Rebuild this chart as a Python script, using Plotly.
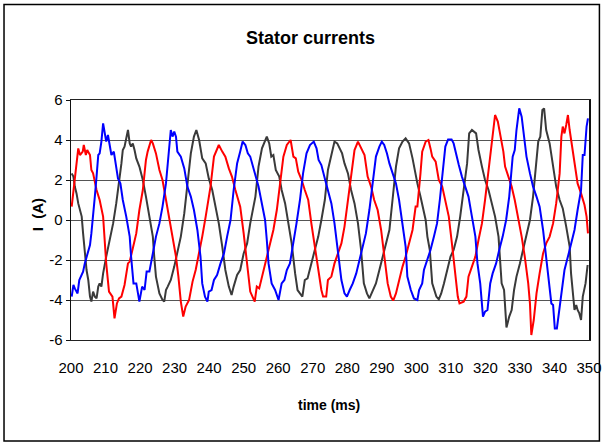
import plotly.graph_objects as go

# ---- data (time in ms, current in A) ----
t_red = [200.2, 201.1, 202.1, 202.6, 203.4, 203.7, 204.3, 204.7, 205.5, 205.9, 206.4, 207.4, 208.3, 209.3,
         210.2, 211.0, 212.0, 212.6, 213.3, 213.9, 214.6, 215.5, 216.5, 217.0, 217.9, 218.9, 219.8, 220.8,
         221.7, 222.2, 223.2, 223.7, 224.6, 225.6, 226.5, 227.5, 228.4, 229.4, 230.4, 231.1, 231.8, 232.5,
         233.2, 234.2, 235.2, 236.1, 237.1, 238.0, 239.0, 240.4, 241.4, 242.8, 243.8, 244.7, 245.7, 246.6,
         247.6, 249.0, 250.0, 251.0, 251.9,
         253.2, 253.8, 254.5, 255.3, 255.8, 256.7, 257.7, 258.6, 259.6, 260.5, 261.5, 262.5, 263.6, 264.4,
         265.1, 265.8, 266.8, 267.7, 268.7, 269.6, 270.6, 271.6, 272.5, 273.0, 273.9, 274.4, 275.4, 276.3,
         277.3, 278.3, 279.2, 280.2, 281.1, 282.1, 283.1, 284.0, 285.0, 285.9, 286.9, 287.8, 288.8, 289.8,
         290.7, 291.7, 292.6, 293.3, 294.1, 295.0, 296.0, 296.9, 297.9, 298.9, 299.8,
         300.3, 301.2, 301.7, 302.7, 303.5, 304.1, 304.6, 305.6, 306.5, 307.5, 308.4, 309.4, 310.3, 311.3,
         312.0, 312.5, 313.7, 314.5, 315.1, 316.1, 317.1, 318.0, 319.0, 319.9, 320.9, 321.8, 322.8, 323.6,
         324.2, 325.2, 325.7, 326.6, 327.6, 328.5, 329.5, 330.5, 331.4, 332.4, 332.9, 333.3, 334.0, 334.8,
         335.7, 336.7, 337.6, 338.6, 339.6, 340.5, 341.5, 342.0, 342.4, 342.9, 343.4, 343.9, 344.4, 344.8,
         345.8, 346.7, 347.7, 348.7, 349.3, 349.7]
i_red = [0.67, 2.17, 3.58, 3.25, 3.42, 3.75, 3.25, 3.5, 3.25, 2.5, 2.33, 1.5, 1.0, 0.17,
         -2.17, -3.58, -3.83, -4.92, -4.17, -3.92, -3.83, -3.25, -2.17, -2.08, -1.33, -0.67, 0.5, 1.5,
         3.0, 3.42, 4.0, 3.83, 3.33, 2.5, 2.0, 1.0, 0.0, -1.0, -1.83, -2.83, -4.08, -4.83,
         -4.33, -4.0, -3.08, -2.5, -1.67, -0.83, 0.17, 1.67, 3.17, 3.75, 3.42, 3.17, 2.58, 2.17,
         1.5, 0.67, -0.67, -2.17, -3.58,
         -4.08, -3.33, -3.42, -2.83, -2.58, -1.83, -1.17, -0.5, 0.5, 1.83, 3.17, 3.75, 4.0, 3.17,
         3.08, 2.42, 2.0, 1.5, 1.0, -0.17, -1.33, -2.5, -3.5, -3.83, -3.83, -3.0, -2.83, -2.17,
         -1.67, -1.17, -0.33, 1.0, 2.33, 3.5, 3.92, 3.58, 3.25, 2.17, 1.67, 1.0, 0.5, -0.5,
         -1.83, -3.17, -3.83, -4.03, -3.67, -3.0, -2.33, -1.83, -1.17, -0.5, 0.67,
         0.67, 2.33, 3.42, 3.92, 4.0, 3.58, 3.17, 2.92, 2.0, 1.67, 1.0, 0.17, -1.17, -2.83,
         -3.83, -4.17, -4.08, -3.83, -2.83, -2.33, -1.83, -1.0, -0.17, 1.0, 2.5, 4.0, 5.25, 4.92,
         4.33, 3.42, 2.67, 2.17, 1.67, 1.0, 0.17, -0.83, -1.83, -3.17, -4.17, -5.75, -5.0, -3.67,
         -2.67, -1.67, -1.17, -0.83, -0.17, 0.83, 2.33, 4.17, 4.67, 4.33, 4.75, 5.25, 4.5, 4.0,
         2.83, 1.83, 1.33, 0.75, 0.17, -0.67]

t_blue = [200.2, 200.7, 201.1, 201.9, 202.4, 203.1, 203.5, 204.0, 204.7, 205.5, 205.9, 206.4, 206.9, 207.4,
          207.9, 208.3, 208.8, 209.3, 209.8, 210.2, 210.7, 211.2, 211.7, 212.4, 213.1, 213.6, 214.3, 215.0,
          216.0, 217.0, 217.4, 218.1, 218.9, 219.3, 219.8, 220.6, 221.3, 221.9, 222.7, 223.7, 224.6, 225.6,
          226.5, 227.5, 228.4, 228.9, 229.4, 229.9, 230.4, 230.8, 231.8, 232.8, 233.7, 234.7, 235.6, 236.6,
          237.5, 238.0, 238.8, 239.5, 239.9, 240.7, 241.4, 242.3, 243.3, 244.3, 245.2, 246.2, 247.1, 248.1,
          249.0, 249.7, 250.5, 251.2, 251.9, 252.6, 253.5,
          254.3, 255.3, 256.2, 256.7, 257.2, 258.1, 259.1, 260.1, 261.0, 261.8, 262.5, 263.4, 264.4, 265.3,
          266.3, 267.2, 268.2, 269.2, 270.3, 271.1, 271.7, 272.5, 273.5, 274.4, 275.4, 276.3, 277.3, 278.3,
          279.2, 279.9, 280.7, 281.6, 282.6, 283.5, 284.5, 285.4, 286.4, 287.4, 288.3, 289.3, 290.0, 290.7,
          291.5, 292.2, 293.1, 294.1, 295.0, 296.0, 296.9, 297.4, 298.4, 299.3, 300.3,
          300.8, 301.7, 302.2, 303.2, 304.1, 305.1, 306.0, 306.8, 307.5, 308.4, 309.2, 310.2, 310.8, 311.6,
          312.3, 313.2, 314.2, 315.1, 316.1, 317.1, 317.7, 318.5, 319.3, 319.9, 320.6, 321.4, 322.1, 323.1,
          324.0, 325.0, 326.0, 326.9, 327.9, 328.5, 329.0, 329.8, 330.5, 330.9, 331.9, 332.9, 333.8, 334.8,
          335.7, 336.7, 337.6, 338.6, 339.1, 339.6, 340.1, 340.7, 341.5, 342.2, 342.9, 343.9, 344.8, 345.8,
          346.7, 347.7, 348.2, 348.7, 349.3, 349.7]
i_blue = [-3.83, -3.25, -3.42, -3.67, -3.0, -2.67, -2.58, -2.17, -1.67, -1.25, -0.67, 0.5, 1.17, 2.17,
          3.25, 3.33, 3.92, 4.83, 4.25, 3.92, 4.25, 3.75, 3.25, 3.42, 2.67, 2.08, 1.83, 1.0,
          0.17, -0.83, -1.83, -3.17, -3.17, -3.67, -4.08, -3.33, -3.5, -2.58, -2.58, -1.67, -0.83, -0.17,
          0.67, 1.83, 3.83, 4.5, 4.17, 4.42, 4.17, 3.42, 3.17, 2.58, 1.67, 1.17, 0.5, -0.5,
          -1.83, -3.17, -3.83, -4.08, -3.58, -3.5, -3.0, -2.75, -2.17, -1.67, -0.83, 0.0, 1.5, 2.83,
          3.42, 3.92, 3.75, 3.33, 3.17, 2.67, 2.17,
          1.67, 0.83, 0.0, -1.0, -2.17, -3.17, -3.5, -4.0, -3.17, -3.0, -2.5, -2.17, -1.17, -0.17,
          1.0, 2.33, 3.33, 3.75, 3.92, 3.58, 3.0, 2.75, 2.08, 1.5, 0.83, -0.17, -1.5, -3.0,
          -3.67, -3.83, -3.5, -3.17, -2.67, -2.0, -1.33, -0.67, 0.5, 1.83, 3.17, 3.67, 3.92, 3.75,
          3.33, 2.83, 2.33, 1.83, 1.0, -0.17, -1.33, -2.83, -3.5, -3.92, -4.0,
          -3.5, -3.17, -2.5, -2.0, -1.5, -0.83, -0.17, 1.0, 2.17, 3.67, 4.03, 4.03, 3.83, 3.17,
          2.75, 2.17, 1.67, 1.17, 0.17, -0.83, -2.17, -3.17, -4.83, -4.58, -4.5, -3.17, -2.67, -2.17,
          -1.5, -0.83, 0.0, 1.17, 3.17, 3.5, 4.5, 5.58, 5.17, 4.67, 3.17, 2.33, 1.67, 1.17,
          0.67, -0.5, -1.83, -3.33, -4.17, -4.25, -5.42, -5.42, -4.33, -3.17, -2.5, -1.83, -1.17, -0.5,
          0.5, 1.5, 3.25, 3.25, 4.67, 5.08]

t_black = [200.2, 200.7, 201.1, 201.6, 202.1, 202.6, 203.1, 203.5, 204.0, 204.5, 205.0, 205.5, 205.9, 206.4,
           206.9, 207.4, 207.9, 208.3, 208.8, 209.3, 210.2, 211.2, 212.2, 213.1, 214.1, 214.6, 215.0, 215.5,
           216.5, 217.0, 217.4, 217.9, 218.4, 218.9, 219.8, 220.8, 221.7, 222.7, 223.7, 224.1, 224.6, 225.6,
           226.5, 227.0, 227.5, 228.0, 228.9, 229.9, 230.8, 231.8, 232.8, 233.7, 234.7, 235.6, 236.3, 237.1,
           238.0, 239.0, 239.9, 240.9, 241.9, 242.8, 243.8, 244.7, 245.7, 246.5, 247.1, 248.1, 249.0, 250.0,
           251.0, 251.9,
           253.4, 254.3, 255.3, 256.2, 256.7, 257.4, 258.0, 258.6, 259.3, 260.3, 261.0, 262.0, 262.9, 263.9,
           264.9, 265.6, 266.3, 267.0, 267.7, 268.5, 269.6, 270.6, 271.6, 272.5, 273.5, 274.4, 275.4, 276.3,
           277.1, 277.8, 278.5, 279.2, 280.2, 281.1, 282.1, 283.1, 284.0, 284.8, 285.7, 286.4, 287.4, 288.3,
           289.3, 290.2, 291.2, 292.2, 293.1, 294.1, 295.0, 296.0, 296.9, 297.9, 298.9, 299.8,
           300.3, 301.2, 302.2, 302.7, 303.2, 303.9, 304.6, 305.1, 305.8, 306.5, 307.2, 308.0, 308.9, 309.9,
           310.8, 311.8, 312.7, 313.7, 314.7, 315.3, 316.1, 317.3, 318.0, 319.0, 319.9, 320.9, 321.8, 322.8,
           323.8, 324.7, 325.4, 326.1, 326.9, 327.6, 328.3, 329.0, 330.0, 330.9, 331.9, 332.9, 333.8, 334.8,
           335.3, 335.9, 336.5, 337.0, 337.6, 338.6, 339.6, 340.5, 341.5, 342.4, 343.4, 344.4, 344.8, 345.3,
           345.8, 346.3, 346.7, 347.2, 347.7, 348.2, 349.0, 349.6]
i_black = [2.33, 2.17, 1.67, 1.33, 0.83, 0.5, 0.17, -0.67, -1.83, -2.5, -3.0, -3.83, -4.08, -3.58,
           -3.83, -3.92, -3.33, -3.17, -3.33, -2.67, -1.83, -1.0, -0.17, 0.83, 2.0, 2.83, 3.5, 3.67,
           4.5, 3.83, 3.67, 3.83, 3.5, 3.08, 2.67, 2.0, 1.17, 0.17, -0.83, -1.83, -2.83, -3.67,
           -4.0, -4.08, -3.5, -3.33, -3.0, -2.33, -1.67, -0.83, 0.33, 1.83, 3.33, 4.17, 4.5, 4.0,
           3.08, 2.83, 2.08, 1.5, 0.67, -0.17, -1.33, -2.5, -3.33, -3.75, -3.33, -2.75, -2.5, -1.67,
           -1.17, -0.17,
           1.17, 2.67, 3.58, 4.0, 4.17, 3.83, 3.17, 3.25, 2.5, 2.17, 1.5, 0.83, -0.17, -1.17,
           -2.67, -3.5, -3.67, -3.83, -3.0, -2.92, -2.17, -1.5, -0.83, 0.0, 1.0, 2.5, 3.33, 3.92,
           3.83, 3.58, 3.33, 2.83, 2.33, 1.5, 0.83, -0.17, -1.5, -3.17, -3.67, -3.92, -3.5, -3.17,
           -2.5, -1.83, -1.17, -0.5, 1.0, 2.67, 3.58, 3.92, 4.08, 3.83, 3.08, 2.17,
           1.83, 1.17, 0.33, 0.0, -0.83, -1.5, -3.17, -3.5, -3.83, -3.97, -3.67, -3.17, -2.5, -1.83,
           -1.5, -0.83, 0.17, 1.5, 2.83, 4.33, 4.5, 4.33, 3.5, 2.67, 2.0, 1.5, 0.83, 0.17,
           -0.83, -3.17, -3.5, -5.37, -4.83, -4.5, -3.5, -2.83, -2.17, -1.5, -0.83, 0.0, 1.17, 3.0,
           3.92, 4.17, 5.5, 5.58, 4.5, 3.83, 2.67, 1.67, 1.0, 0.58, -0.33, -1.33, -2.67, -3.5,
           -4.5, -4.25, -4.5, -4.67, -5.0, -3.83, -3.17, -2.25]

x_ticks = [200, 210, 220, 230, 240, 250, 260, 270, 280, 290, 300, 310, 320, 330, 340, 350]
y_ticks = [-6, -4, -2, 0, 2, 4, 6]

title_text = "Stator currents"
x_title = "time (ms)"
y_title = "I  (A)"

FONT = "Liberation Sans, Arial, sans-serif"

fig = go.Figure()
fig.add_trace(go.Scatter(x=t_black, y=i_black, mode="lines", line=dict(color="#3a3a3a", width=2)))
fig.add_trace(go.Scatter(x=t_red, y=i_red, mode="lines", line=dict(color="#ff0000", width=2)))
fig.add_trace(go.Scatter(x=t_blue, y=i_blue, mode="lines", line=dict(color="#0000ff", width=2)))

W, H = 614, 443
L, R, T, B = 71, 593, 100, 340
pw, ph = R - L, B - T

def px(x):
    return (x - L) / pw

def py(y):
    return (B - y) / ph

fig.update_layout(
    width=W, height=H,
    margin=dict(l=L, r=W - R, t=T, b=H - B, pad=0),
    paper_bgcolor="white", plot_bgcolor="white",
    showlegend=False,
    hovermode=False,
    font=dict(family=FONT, size=15, color="black"),
    xaxis=dict(range=[200, 350], tickvals=x_ticks, ticktext=[str(v) for v in x_ticks],
               showgrid=False, zeroline=False, showline=True, linecolor="#222222", linewidth=1,
               mirror=True, ticks="", tickfont=dict(size=15), ticklabelstandoff=14),
    yaxis=dict(range=[-6, 6], tickvals=y_ticks, ticktext=[str(v) for v in y_ticks],
               showgrid=True, gridcolor="#555555", gridwidth=1, zeroline=False,
               showline=True, linecolor="#111111", linewidth=1.5, mirror=True,
               ticks="outside", ticklen=4, tickcolor="#111111", tickfont=dict(size=15)),
    shapes=[dict(type="rect", xref="paper", yref="paper",
                 x0=px(3.5), x1=px(603.5), y0=py(441), y1=py(4.5),
                 line=dict(color="black", width=1.5), layer="below")],
    annotations=[
        dict(text="<b>" + title_text + "</b>", xref="paper", yref="paper", x=px(312), y=py(38),
             showarrow=False, font=dict(size=18, family=FONT), xanchor="center", yanchor="middle"),
        dict(text="<b>" + x_title + "</b>", xref="paper", yref="paper", x=px(331), y=py(405),
             showarrow=False, font=dict(size=14, family=FONT), xanchor="center", yanchor="middle"),
        dict(text="<b>" + y_title + "</b>", xref="paper", yref="paper", x=px(37), y=py(215),
             showarrow=False, font=dict(size=15, family=FONT), textangle=-90,
             xanchor="center", yanchor="middle"),
    ],
)

fig.write_html("out.html", config={"displayModeBar": False, "staticPlot": True},
               post_script="document.body.style.margin='0';")
